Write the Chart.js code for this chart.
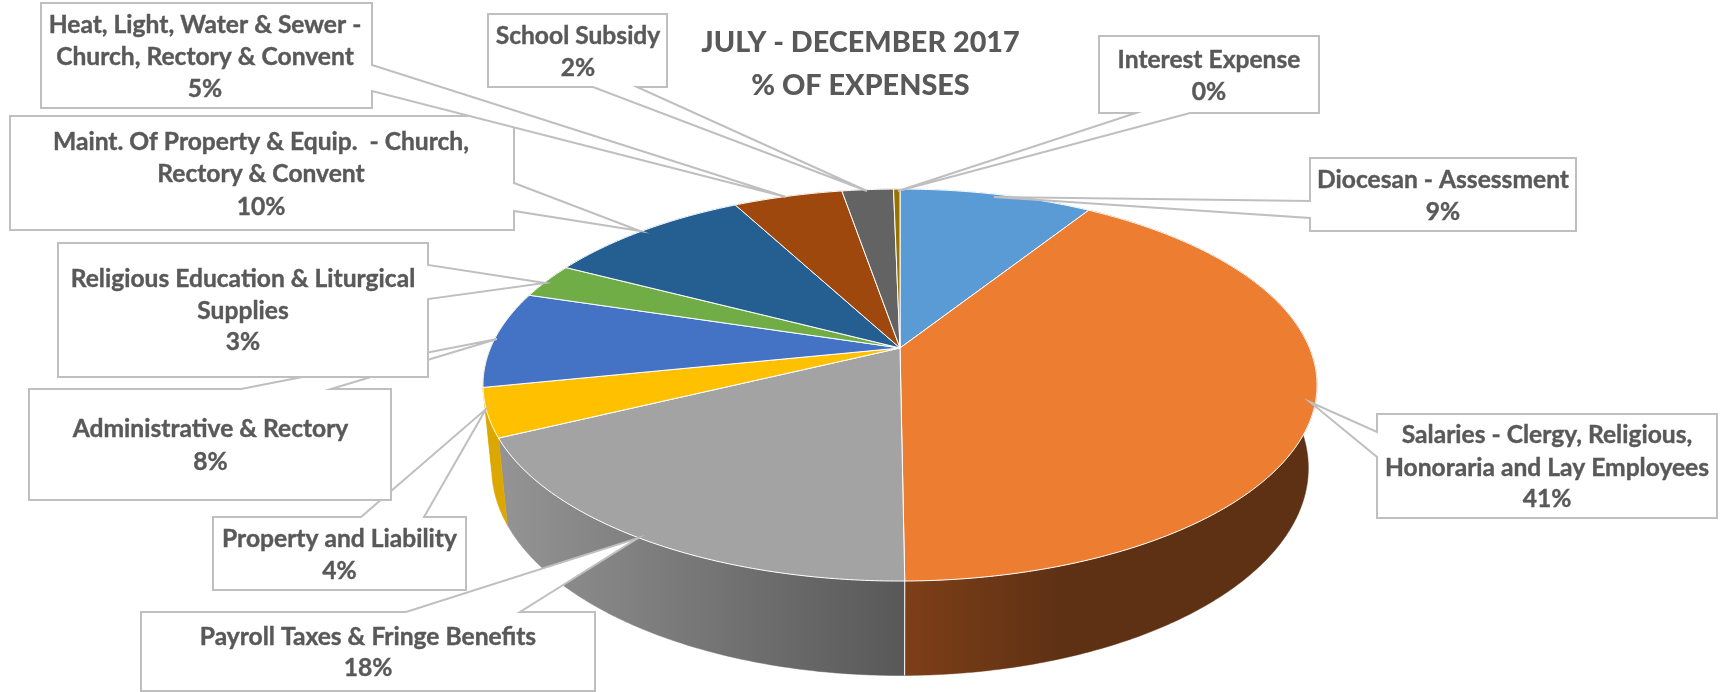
<!DOCTYPE html>
<html>
<head>
<meta charset="utf-8">
<title>July - December 2017 % of expenses</title>
<script src="https://cdn.jsdelivr.net/npm/chart.js@4"></script>
<style>
  html, body { margin: 0; background: #fff; }
  #wrap { position: relative; width: 1721px; height: 692px; }
</style>
</head>
<body>
<div id="wrap"><canvas id="chart"></canvas></div>
<script>
// ---------- data ----------
const titleLines = ['JULY - DECEMBER 2017', '% OF EXPENSES'];
const categories = [
  ['Diocesan - Assessment'],
  ['Salaries - Clergy, Religious,', 'Honoraria and Lay Employees'],
  ['Payroll Taxes & Fringe Benefits'],
  ['Property and Liability'],
  ['Administrative & Rectory'],
  ['Religious Education & Liturgical', 'Supplies'],
  ['Maint. Of Property & Equip.  - Church,', 'Rectory & Convent'],
  ['Heat, Light, Water & Sewer -', 'Church, Rectory & Convent'],
  ['School Subsidy'],
  ['Interest Expense'],
];
const expensePct = [9, 41, 18, 4, 8, 2.9, 9.6, 5.1, 2.4, 0.3];

// ---------- styles ----------
const sliceColors = ['#5b9bd5', '#ed7d31', '#a3a3a3', '#ffc000', '#4472c4', '#70ad47', '#255e91', '#9e480e', '#636363', '#997300'];
const TEXT_COLOR = '#595959';
const LINE_COLOR = '#bfbfbf';
const LABEL_FONT = '700 24.6px Lato';

// side wall shading, [x, colour] stops per slice (only the front slices show)
const wallStops = {
  1: [[905, '#7d3f18'], [1060, '#5f3114']],
  2: [[500, '#949494'], [905, '#585858']],
  3: [[480, '#dca700'], [520, '#dca700']],
  4: [[480, '#dca700'], [520, '#dca700']],
};

// pie seen in perspective: apex, radii, perspective, depth
const PIE = { cx: 900, cy: 348, a: 409.5, b: 189, p: 0.189, q: 0.0205, d: 83.3 };

// callout boxes, same order as the categories
// box [left, top, right, bottom], wedge side + two positions, tip [x, y], text x + line centres
const callouts = [
  { box: [1310, 158, 1576, 231], side: 'left', wedge: [201, 218], tip: [994, 197], tx: 1443, ty: [180, 212] },
  { box: [1377, 414, 1717, 518], side: 'left', wedge: [432, 457], tip: [1310, 402], tx: 1547, ty: [435, 468, 499] },
  { box: [141, 612, 595, 691], side: 'top', wedge: [406, 520], tip: [638, 538], tx: 368, ty: [637, 668] },
  { box: [213, 517, 466, 590], side: 'top', wedge: [361, 424], tip: [486, 409], tx: 339.5, ty: [539, 571] },
  { box: [29, 389, 391, 500], side: 'top', wedge: [241, 331], tip: [497, 339], tx: 210.5, ty: [429, 462] },
  { box: [58, 243, 428, 377], side: 'right', wedge: [265, 299], tip: [545, 283], tx: 243, ty: [279, 311, 342] },
  { box: [10, 116, 514, 230], side: 'right', wedge: [183, 211], tip: [640, 231], tx: 261, ty: [142, 174, 207] },
  { box: [41, 3, 372, 108], side: 'right', wedge: [65, 91], tip: [786, 197], tx: 205, ty: [25, 57, 89] },
  { box: [488, 14, 667, 87], side: 'bottom', wedge: [593, 637], tip: [867, 191], tx: 578, ty: [36, 68] },
  { box: [1099, 36, 1319, 113], side: 'bottom', wedge: [1136, 1190], tip: [898, 191], tx: 1209, ty: [60, 92] },
];

// ---------- projection of the pie ----------
function project(angle, z) {
  const u = Math.cos(angle), v = Math.sin(angle);
  const w = 1 - PIE.p * v + PIE.q * z;
  return [PIE.cx + PIE.a * u / w, PIE.cy + (PIE.b * v + PIE.d * z) / w];
}

function rimPoints(start, end, z) {
  const steps = Math.max(2, Math.ceil((end - start) / 0.01));
  const pts = [];
  for (let i = 0; i <= steps; i++) pts.push(project(start + (end - start) * i / steps, z));
  return pts;
}

function wallFill(ctx, index) {
  const stops = wallStops[index];
  if (!stops) return sliceColors[index];
  const first = stops[0][0], last = stops[stops.length - 1][0];
  const grad = ctx.createLinearGradient(first, 0, last, 0);
  stops.forEach((s) => grad.addColorStop((s[0] - first) / (last - first), s[1]));
  return grad;
}

// draws the pie's arcs in perspective, from the angles the controller worked out
const perspectivePie = {
  id: 'perspectivePie',
  beforeDatasetDraw(chart, args) {
    const ctx = chart.ctx;
    const arcs = args.meta.data;
    ctx.save();
    ctx.lineJoin = 'round';
    // walls first, the top face covers the back ones
    arcs.forEach((arc, i) => {
      const top = rimPoints(arc.startAngle, arc.endAngle, 0);
      const bottom = rimPoints(arc.startAngle, arc.endAngle, 1).reverse();
      ctx.beginPath();
      top.concat(bottom).forEach((pt) => ctx.lineTo(pt[0], pt[1]));
      ctx.closePath();
      ctx.fillStyle = wallFill(ctx, i);
      ctx.fill();
      ctx.strokeStyle = wallFill(ctx, i);
      ctx.lineWidth = 0.5;
      ctx.stroke();
    });
    // slice edge on the wall at the front
    const front = arcs[1].endAngle;
    const a = project(front, 0), b = project(front, 1);
    ctx.beginPath();
    ctx.moveTo(a[0], a[1]);
    ctx.lineTo(b[0], b[1]);
    ctx.strokeStyle = '#fff';
    ctx.lineWidth = 1;
    ctx.stroke();
    arcs.forEach((arc, i) => {
      ctx.beginPath();
      ctx.moveTo(PIE.cx, PIE.cy);
      rimPoints(arc.startAngle, arc.endAngle, 0).forEach((pt) => ctx.lineTo(pt[0], pt[1]));
      ctx.closePath();
      ctx.fillStyle = sliceColors[i];
      ctx.fill();
      ctx.strokeStyle = '#fff';
      ctx.lineWidth = 1;
      ctx.stroke();
    });
    ctx.restore();
    return false; // the flat circle is not wanted
  },
};

function calloutPath(ctx, c) {
  const [l, t, r, b] = c.box;
  const [w1, w2] = c.wedge;
  const [tx, ty] = c.tip;
  ctx.beginPath();
  ctx.moveTo(l, t);
  if (c.side === 'top') { ctx.lineTo(w1, t); ctx.lineTo(tx, ty); ctx.lineTo(w2, t); }
  ctx.lineTo(r, t);
  if (c.side === 'right') { ctx.lineTo(r, w1); ctx.lineTo(tx, ty); ctx.lineTo(r, w2); }
  ctx.lineTo(r, b);
  if (c.side === 'bottom') { ctx.lineTo(w2, b); ctx.lineTo(tx, ty); ctx.lineTo(w1, b); }
  ctx.lineTo(l, b);
  if (c.side === 'left') { ctx.lineTo(l, w2); ctx.lineTo(tx, ty); ctx.lineTo(l, w1); }
  ctx.closePath();
}

const calloutLabels = {
  id: 'calloutLabels',
  afterDraw(chart) {
    const ctx = chart.ctx;
    const total = expensePct.reduce((acc, v) => acc + v, 0);
    ctx.save();
    callouts.forEach((c, i) => {
      calloutPath(ctx, c);
      ctx.fillStyle = '#fff';
      ctx.fill();
      ctx.strokeStyle = LINE_COLOR;
      ctx.lineWidth = 2;
      ctx.stroke();
      const lines = categories[i].concat(Math.round(expensePct[i] / total * 100) + '%');
      ctx.font = LABEL_FONT;
      ctx.fillStyle = TEXT_COLOR;
      ctx.strokeStyle = TEXT_COLOR;
      ctx.lineWidth = 0.4;
      ctx.textAlign = 'center';
      ctx.textBaseline = 'middle';
      lines.forEach((line, k) => {
        ctx.fillText(line, c.tx, c.ty[k]);
        ctx.strokeText(line, c.tx, c.ty[k]);
      });
    });
    ctx.restore();
  },
};

new Chart(document.getElementById('chart'), {
  type: 'pie',
  data: {
    labels: categories,
    datasets: [{ data: expensePct, backgroundColor: sliceColors, borderWidth: 0 }],
  },
  options: {
    responsive: true,
    maintainAspectRatio: false,
    animation: false,
    plugins: {
      legend: { display: false },
      tooltip: { enabled: false },
      title: {
        display: true,
        text: titleLines,
        color: TEXT_COLOR,
        font: { family: 'Lato', size: 28.8, weight: '900', lineHeight: 1.47 },
        padding: { top: 22, bottom: 0 },
      },
    },
  },
  plugins: [perspectivePie, calloutLabels],
});
</script>
</body>
</html>
